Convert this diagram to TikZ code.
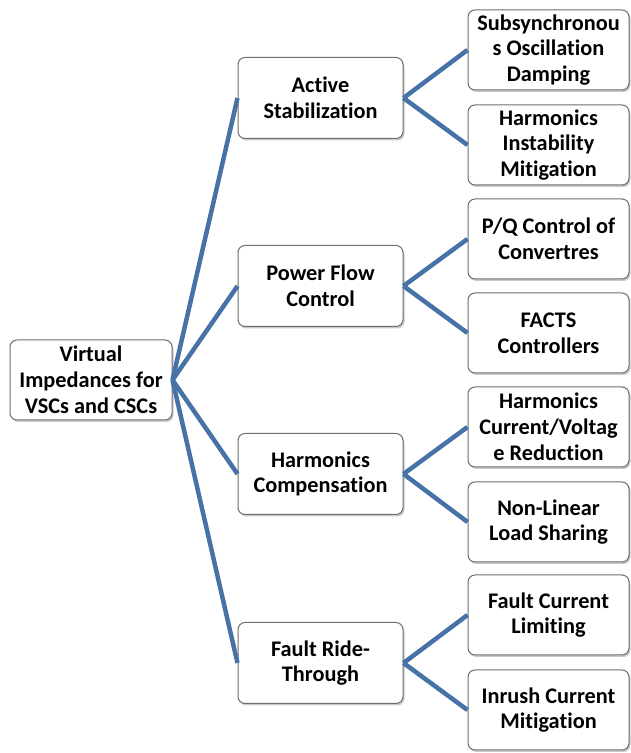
\documentclass[tikz,border=0pt]{standalone}
\usepackage{fontspec}
\setmainfont{Carlito}[Ligatures={NoCommon}]
\usetikzlibrary{shadows}
\definecolor{linkblue}{RGB}{70,114,168}
\definecolor{boxline}{RGB}{110,110,110}
\tikzset{
  box/.style={draw=boxline, line width=1pt, rounded corners=7pt, fill=white,
    align=center, font=\bfseries\fontsize{22.3}{25.8}\selectfont, inner sep=0pt,
    drop shadow={shadow xshift=1.5pt, shadow yshift=-2pt, opacity=0.35, fill=black!60}},
  link/.style={draw=linkblue, line width=4.5pt}
}
\begin{document}
\begin{tikzpicture}[x=1pt,y=1pt]
\useasboundingbox (0,0) rectangle (630,753);
% root
\node[box, minimum width=162pt, minimum height=80pt] (root) at (91,373) {Virtual\\Impedances for\\VSCs and CSCs};
% level 1
\begin{scope}[every node/.style={box, minimum width=165pt, minimum height=81pt}]
\node (a) at (320.5,655) {Active\\Stabilization};
\node (b) at (320.5,467) {Power Flow\\Control};
\node (c) at (320.5,279) {Harmonics\\Compensation};
\node (d) at (320.5,90) {Fault Ride-\\Through};
\end{scope}
% level 2
\begin{scope}[every node/.style={box, minimum width=161pt, minimum height=80pt}]
\node (a1) at (548.5,703) {Subsynchronou\\s Oscillation\\Damping};
\node (a2) at (548.5,608) {Harmonics\\Instability\\Mitigation};
\node (b1) at (548.5,514) {P/Q Control of\\Convertres};
\node (b2) at (548.5,420) {FACTS\\Controllers};
\node (c1) at (548.5,326) {Harmonics\\Current/Voltag\\e Reduction};
\node (c2) at (548.5,231) {Non-Linear\\Load Sharing};
\node (d1) at (548.5,138) {Fault Current\\Limiting};
\node (d2) at (548.5,43) {Inrush Current\\Mitigation};
\end{scope}
% connectors
\foreach \n in {a,b,c,d} \draw[link] (root.east) -- (\n.west);
\foreach \p in {a,b,c,d} {
  \draw[link] (\p.east) -- (\p1.west);
  \draw[link] (\p.east) -- (\p2.west);
}
\end{tikzpicture}
\end{document}
